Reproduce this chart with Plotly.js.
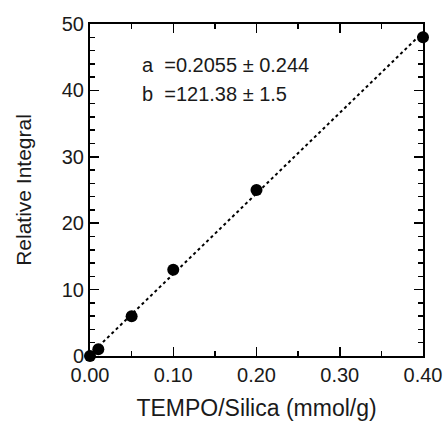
<!DOCTYPE html>
<html>
<head>
<meta charset="utf-8">
<script src="https://cdn.plot.ly/plotly-3.0.1.min.js"></script>
<style>html,body{margin:0;padding:0;background:#fff;}#chart{width:445px;height:427px;}</style>
</head>
<body>
<div id="chart"></div>
<script>
const tempoSilica = [0.00, 0.01, 0.05, 0.10, 0.20, 0.40];
const relativeIntegral = [0, 1, 6, 13, 25, 48];
const fitA = 0.2055, fitAErr = 0.244;
const fitB = 121.38, fitBErr = 1.5;
const fitX = [0, 0.4];
const fitY = fitX.map(x => fitA + fitB * x);

const font = 'Liberation Sans, Arial, sans-serif';
const data = [
  {x: fitX, y: fitY, mode: 'lines', line: {color: '#000', width: 2, dash: 'dot'}, hoverinfo: 'skip', cliponaxis: false},
  {x: tempoSilica, y: relativeIntegral, mode: 'markers', marker: {color: '#000', size: 12}, cliponaxis: false}
];
const axisCommon = {
  showline: true, linecolor: '#000', linewidth: 2, mirror: 'ticks',
  ticks: 'inside', ticklen: 9, tickwidth: 1.5, tickcolor: '#000',
  showgrid: false, zeroline: false,
  tickfont: {family: font, size: 20, color: '#1a1a1a'}
};
const layout = {
  width: 445, height: 427,
  margin: {l: 90, r: 22, t: 24, b: 71},
  showlegend: false,
  paper_bgcolor: '#fff', plot_bgcolor: '#fff',
  xaxis: Object.assign({}, axisCommon, {
    range: [0, 0.4], dtick: 0.1, tick0: 0, tickformat: '.2f',
    minor: {dtick: 0.05, ticks: 'inside', ticklen: 5, tickwidth: 1.5, tickcolor: '#000', showgrid: false},
    title: {text: 'TEMPO/Silica (mmol/g)', font: {family: font, size: 23, color: '#1a1a1a'}, standoff: 15}
  }),
  yaxis: Object.assign({}, axisCommon, {
    range: [0, 50], dtick: 10, tick0: 0,
    minor: {dtick: 2, ticks: 'inside', ticklen: 5, tickwidth: 1.5, tickcolor: '#000', showgrid: false},
    title: {text: 'Relative Integral', font: {family: font, size: 21, color: '#1a1a1a'}, standoff: 24}
  }),
  annotations: [
    {xref: 'paper', yref: 'paper', x: 0.15, y: 0.877, xanchor: 'left', yanchor: 'middle', showarrow: false,
     text: 'a  =' + fitA.toFixed(4) + ' ± ' + fitAErr, font: {family: font, size: 20, color: '#1a1a1a'}},
    {xref: 'paper', yref: 'paper', x: 0.15, y: 0.789, xanchor: 'left', yanchor: 'middle', showarrow: false,
     text: 'b  =' + fitB.toFixed(2) + ' ± ' + fitBErr, font: {family: font, size: 20, color: '#1a1a1a'}}
  ]
};
Plotly.newPlot('chart', data, layout, {displayModeBar: false, staticPlot: true});
</script>
</body>
</html>
